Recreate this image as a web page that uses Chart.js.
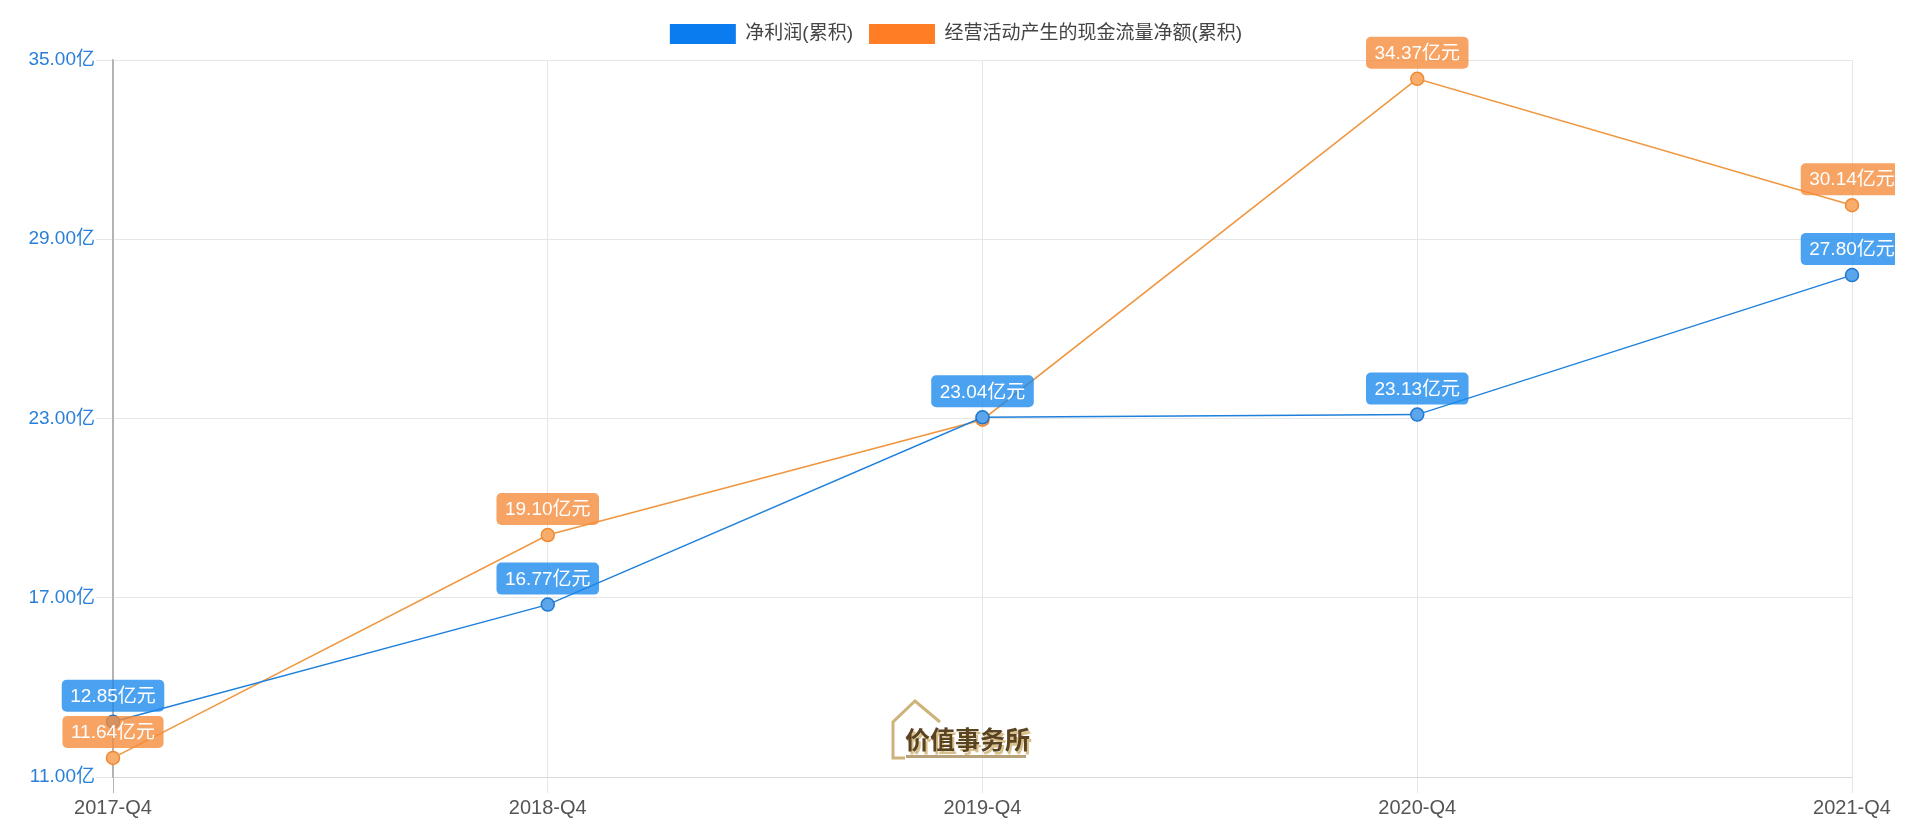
<!DOCTYPE html>
<html>
<head>
<meta charset="utf-8">
<script src="https://cdn.jsdelivr.net/npm/chart.js@4"></script>
<style>
    html, body {
        margin: 0;
        padding: 0;
        background: #ffffff;
    }
    #box {
        width: 1920px;
        height: 830px;
    }
</style>
</head>
<body>
<div id="box">
    <canvas id="grafico" width="1920" height="830"></canvas>
</div>
<script>
const trimestres = ["2017-Q4", "2018-Q4", "2019-Q4", "2020-Q4", "2021-Q4"];
const lucroLiquido = [12.85, 16.77, 23.04, 23.13, 27.80];
const fluxoCaixa = [11.64, 19.10, 22.96, 34.37, 30.14];
const nomesSeries = ["净利润(累积)", "经营活动产生的现金流量净额(累积)"];
const eixoY = { min: 11, max: 35, passo: 6 };

const fonte = "'Helvetica Neue', Helvetica, 'Liberation Sans', Arial, 'Noto Sans CJK SC', sans-serif";

// rotulos em caixa arredondada acima dos pontos
const rotulos = {
    id: "rotulos",
    afterDatasetsDraw(chart) {
        const ctx = chart.ctx;
        const usados = [];
        ctx.save();
        ctx.beginPath();
        ctx.rect(0, 0, 1895, chart.height);
        ctx.clip();
        ctx.font = "19px " + fonte;
        ctx.textAlign = "center";
        ctx.textBaseline = "middle";
        chart.data.datasets.forEach((ds, di) => {
            const meta = chart.getDatasetMeta(di);
            meta.data.forEach((pt, i) => {
                const texto = ds.data[i].toFixed(2) + "亿元";
                const w = ctx.measureText(texto).width + 17;
                const h = 32;
                const x = pt.x - w / 2;
                const y = pt.y - 10 - h;
                const bate = usados.some(r => x < r.x + r.w && x + w > r.x && y < r.y + r.h && y + h > r.y);
                if (bate) return;
                usados.push({ x, y, w, h });
                ctx.fillStyle = ds.corRotulo;
                ctx.beginPath();
                ctx.roundRect(x, y, w, h, 5);
                ctx.fill();
                ctx.fillStyle = "#ffffff";
                ctx.fillText(texto, pt.x, y + h / 2 + 1);
            });
        });
        ctx.restore();
    }
};

// marca d'agua
const marca = {
    id: "marca",
    beforeDatasetsDraw(chart) {
        const ctx = chart.ctx;
        ctx.save();
        ctx.strokeStyle = "#cdb27a";
        ctx.lineWidth = 3;
        ctx.beginPath();
        ctx.moveTo(940, 722);
        ctx.lineTo(915, 701);
        ctx.lineTo(893, 722);
        ctx.lineTo(893, 758);
        ctx.lineTo(905, 758);
        ctx.stroke();
        ctx.font = "bold 25px 'Noto Sans CJK SC', sans-serif";
        ctx.textBaseline = "middle";
        ctx.fillStyle = "#d8c08c";
        ctx.fillText("价值事务所", 907, 742);
        ctx.fillStyle = "#5a4321";
        ctx.fillText("价值事务所", 905, 739);
        ctx.fillStyle = "#b9a27a";
        ctx.fillRect(906, 755, 120, 3);
        ctx.restore();
    }
};

// legenda: altura fixa, um pouco mais abaixo e centrada na tela
const ajusteLegenda = {
    id: "ajusteLegenda",
    beforeInit(chart) {
        const fitOriginal = chart.legend.fit;
        chart.legend.fit = function () {
            fitOriginal.bind(chart.legend)();
            this.height = 60;
        };
    },
    afterLayout(chart) {
        chart.legend.top += 8;
        chart.legend.left += 30;
        chart.legend.right += 30;
    }
};

const ctx = document.getElementById("grafico").getContext("2d");

new Chart(ctx, {

    type: "line",

    data: {

        labels: trimestres,

        datasets: [
            {
                label: nomesSeries[0],
                data: lucroLiquido,
                borderColor: "#1f80dc",
                backgroundColor: "#0a7cf0",
                pointBackgroundColor: "#5ba6ea",
                pointBorderColor: "#1f77d0",
                corRotulo: "rgba(24, 136, 236, 0.78)",
                borderWidth: 1.5,
                pointRadius: 6.5,
                pointBorderWidth: 1.5,
                tension: 0
            },
            {
                label: nomesSeries[1],
                data: fluxoCaixa,
                borderColor: "#f0963f",
                backgroundColor: "#ff7d24",
                pointBackgroundColor: "#f9ad6c",
                pointBorderColor: "#ef8a34",
                corRotulo: "rgba(245, 140, 60, 0.8)",
                borderWidth: 1.5,
                pointRadius: 6.5,
                pointBorderWidth: 1.5,
                tension: 0
            }
        ]

    },

    options: {

        responsive: false,
        animation: false,

        layout: {
            padding: { left: 0, right: 68, top: 0, bottom: 0 }
        },

        plugins: {

            legend: {
                display: true,
                labels: {
                    boxWidth: 66,
                    boxHeight: 20,
                    padding: 16,
                    color: "#444444",
                    font: { size: 19, family: fonte },
                    generateLabels(chart) {
                        return chart.data.datasets.map((ds, i) => ({
                            text: ds.label,
                            fillStyle: ds.backgroundColor,
                            strokeStyle: ds.backgroundColor,
                            lineWidth: 0,
                            fontColor: "#444444",
                            datasetIndex: i
                        }));
                    }
                }
            },

            tooltip: { enabled: false }

        },

        scales: {

            x: {
                afterFit(scale) {
                    scale.height = 53;
                },
                grid: {
                    color: c => c.index === 0 ? "#b3b3b3" : "#e6e6e6",
                    tickLength: 16,
                    lineWidth: 1
                },
                border: {
                    display: true,
                    color: "#d9d9d9"
                },
                ticks: {
                    color: "#555555",
                    padding: 3,
                    maxRotation: 0,
                    font: { size: 20, family: fonte }
                }
            },

            y: {
                min: eixoY.min,
                max: eixoY.max,
                afterFit(scale) {
                    scale.width = 113;
                },
                grid: {
                    color: "#e6e6e6",
                    tickLength: 17
                },
                border: {
                    display: true,
                    color: "#b3b3b3",
                    width: 1.5
                },
                ticks: {
                    stepSize: eixoY.passo,
                    color: "#2a80d8",
                    padding: 1,
                    font: { size: 19, family: fonte },
                    callback: v => v.toFixed(2) + "亿"
                }
            }

        }

    },

    plugins: [ajusteLegenda, marca, rotulos]

});
</script>
</body>
</html>
